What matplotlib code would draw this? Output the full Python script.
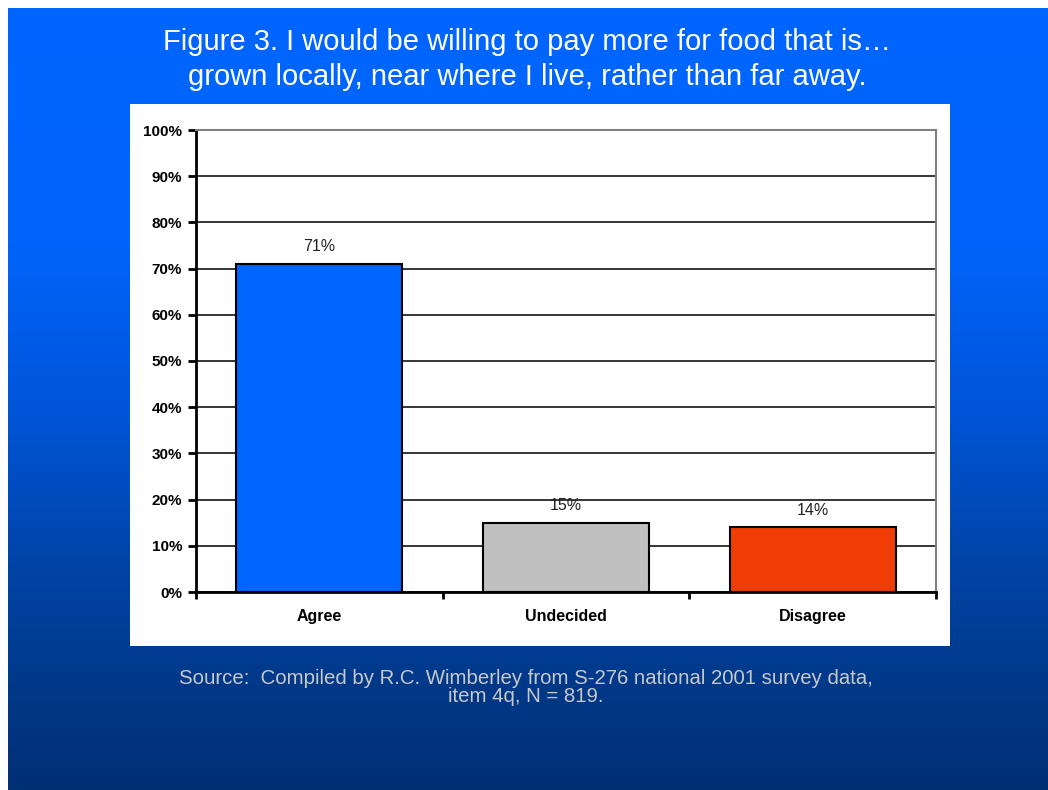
import numpy as np
import matplotlib
matplotlib.use("Agg")
import matplotlib.pyplot as plt
from matplotlib.colors import LinearSegmentedColormap

plt.rcParams['font.family'] = ['Liberation Sans', 'DejaVu Sans']

# survey responses
categories = ["Agree", "Undecided", "Disagree"]
shares = [71, 15, 14]
bar_colors = ["#0066FF", "#C0C0C0", "#F03C05"]
yticks = list(range(0, 101, 10))

W, H = 1048, 790
fig = plt.figure(figsize=(W / 100, H / 100), dpi=100)
fig.patch.set_facecolor("white")

# slide background: blue gradient, darker toward the bottom
bg = fig.add_axes([8 / W, 0, (W - 8) / W, (H - 8) / H])
bg_cmap = LinearSegmentedColormap.from_list(
    "slide", [(0.0, "#0066FF"), (0.3, "#0064FA"), (0.5, "#0056DC"),
              (0.7, "#0045AA"), (0.85, "#003A8C"), (1.0, "#002F74")])
grad = np.linspace(0, 1, 256).reshape(-1, 1)
bg.imshow(grad, aspect="auto", cmap=bg_cmap, extent=[0, 1, 0, 1], origin="upper")
bg.set_axis_off()

fig.text(527 / W, 1 - 42 / H, "Figure 3. I would be willing to pay more for food that is\u2026",
         color="white", fontsize=21, ha="center", va="center")
fig.text(527 / W, 1 - 77 / H, "grown locally, near where I live, rather than far away.",
         color="white", fontsize=21, ha="center", va="center")

# white chart panel
panel = fig.add_axes([130 / W, 1 - 646 / H, 820 / W, 542 / H])
panel.set_facecolor("white")
panel.set_xticks([])
panel.set_yticks([])
for s in panel.spines.values():
    s.set_visible(False)

ax = fig.add_axes([196 / W, 1 - 592 / H, 740 / W, 462 / H])
ax.set_facecolor("white")
x = np.arange(len(categories))
ax.bar(x, shares, width=0.673, color=bar_colors, edgecolor="black", linewidth=1.5, zorder=3)
for xi, v in zip(x, shares):
    ax.annotate(f"{v}%", (xi, v), xytext=(0, 7), textcoords="offset points",
                ha="center", va="bottom", fontsize=11.5, color="#222222")

ax.set_xlim(-0.5, len(categories) - 0.5)
ax.set_ylim(0, 100)
ax.set_yticks(yticks)
ax.set_yticklabels([f"{t}%" for t in yticks], fontsize=11, fontweight="bold")
ax.yaxis.grid(True, color="black", linewidth=1.1, zorder=0)
ax.set_axisbelow(True)

ax.set_xticks(x)
ax.set_xticklabels(categories, fontsize=11.5, fontweight="bold")
ax.tick_params(axis="x", length=0, pad=12)
ax.set_xticks(np.arange(len(categories) + 1) - 0.5, minor=True)
ax.tick_params(axis="x", which="minor", length=5, width=2, direction="out")
ax.tick_params(axis="y", length=6, width=2, direction="out", pad=4)

ax.spines["left"].set_linewidth(2)
ax.spines["bottom"].set_linewidth(2)
ax.spines["top"].set_color("#808080")
ax.spines["right"].set_color("#808080")
ax.spines["top"].set_linewidth(1.5)
ax.spines["right"].set_linewidth(1.5)

fig.text(526 / W, 1 - 679 / H,
         "Source:  Compiled by R.C. Wimberley from S-276 national 2001 survey data,",
         color="#C8C8C8", fontsize=14.7, ha="center", va="center")
fig.text(526 / W, 1 - 697 / H, "item 4q, N = 819.",
         color="#C8C8C8", fontsize=14.7, ha="center", va="center")

fig.savefig("out.png", dpi=100)
